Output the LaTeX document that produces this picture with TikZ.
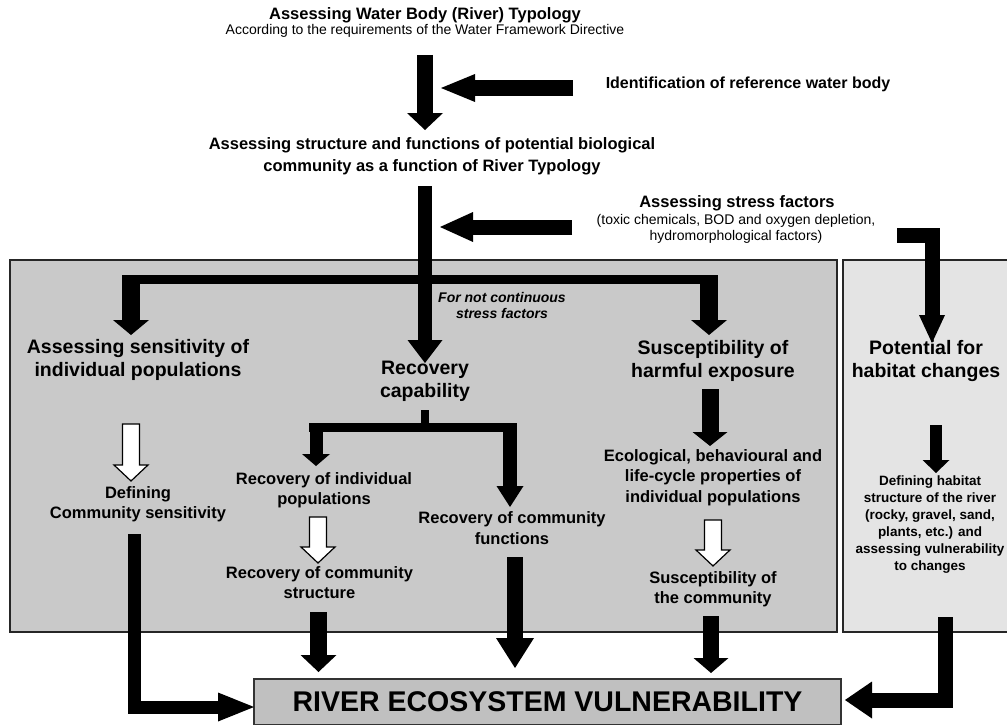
\documentclass[tikz,border=0pt]{standalone}
\usepackage{fontspec}
\setmainfont{Liberation Sans}
\usetikzlibrary{arrows.meta,calc}
\definecolor{panelGray}{HTML}{C9C9C9}
\definecolor{habitatGray}{HTML}{E4E4E4}
\definecolor{resultGray}{HTML}{C0C0C0}

% outlined (white) block arrow, drawn straight down from #1 to the tip #2
\newcommand{\hollowArrow}[2]{%
  \draw[line width=1.2pt, fill=white, line join=miter]
    let \p1=#1, \p2=#2 in
    (\x1-8.5pt,\y1) -- (\x1+8.5pt,\y1) -- (\x1+8.5pt,\y2+16pt) -- (\x1+17pt,\y2+16pt)
    -- (\x1,\y2) -- (\x1-17pt,\y2+16pt) -- (\x1-8.5pt,\y2+16pt) -- cycle;}

\begin{document}
\begin{tikzpicture}[
  x=1pt, y=-1pt,
  headText/.style={align=center, inner sep=0pt, font=\bfseries\fontsize{16.5}{22}\selectfont},
  noteText/.style={align=center, inner sep=0pt, font=\fontsize{14}{16}\selectfont},
  bigText/.style={align=center, inner sep=0pt, font=\bfseries\fontsize{19.5}{23}\selectfont},
  midText/.style={align=center, inner sep=0pt, font=\bfseries\fontsize{16.5}{20.5}\selectfont},
  smallText/.style={align=center, inner sep=0pt, font=\bfseries\fontsize{13.5}{17}\selectfont},
  panel/.style={draw=black!85, line width=1.6pt},
  vulnBox/.style={draw=black!80, line width=1.3pt, fill=resultGray, minimum width=587pt, minimum height=46pt, inner sep=0pt, outer sep=0pt, font=\bfseries\fontsize{28.5}{30}\selectfont},
  blockArrow/.style args={#1/#2/#3}{draw=black, line width=#1, -{Triangle[width=#2, length=#3, line width=0pt]}},
  barLine/.style={draw=black, line width=#1}
]
\useasboundingbox (0,0) rectangle (1007,725);

% grey panels
\draw[panel, fill=panelGray] (10,260) rectangle (837,632);
\draw[panel, fill=habitatGray] (843,260) rectangle (1012,632);

% texts
\node[headText] (typology) at (425,15) {Assessing Water Body (River) Typology};
\node[noteText] (typologyNote) at (425,31) {According to the requirements of the Water Framework Directive};
\node[headText, font=\bfseries\fontsize{16}{20}\selectfont] (refbody) at (748,84) {Identification of reference water body};
\node[headText] (potcomm) at (432,156) {Assessing structure and functions of potential biological\\community as a function of River Typology};
\node[headText] (stress) at (737,203) {Assessing stress factors};
\node[noteText] (stressNote) at (736,229) {(toxic chemicals, BOD and oxygen depletion,\\hydromorphological factors)};
\node[align=center, inner sep=0pt, font=\bfseries\itshape\fontsize{14}{16}\selectfont] (forstress) at (502,305) {For not continuous\\stress factors};

\node[bigText] (sensitivity) at (138,360) {Assessing sensitivity of\\individual populations};
\node[bigText] (recovery) at (425,381) {Recovery\\capability};
\node[bigText] (susceptibility) at (713,361) {Susceptibility of\\harmful exposure};
\node[bigText] (habitat) at (926,361) {Potential for\\habitat changes};

\node[midText] (defcomm) at (138,504) {Defining\\Community sensitivity};
\node[midText] (recindiv) at (324,490) {Recovery of individual\\populations};
\node[midText] (recstruct) at (319.5,582.5) {Recovery of community\\structure};
\node[midText] (recfunc) at (512,528) {Recovery of community\\functions};
\node[midText] (ecoprops) at (713,477.5) {Ecological, behavioural and\\life-cycle properties of\\individual populations};
\node[midText] (suscomm) at (713,589) {Susceptibility of\\the community};
\node[smallText] (habdef) at (930,524.5) {Defining habitat\\structure of the river\\(rocky, gravel, sand,\\plants, etc.) and\\assessing vulnerability\\to changes};

\node[vulnBox] (vulnerability) at (547.5,702) {RIVER ECOSYSTEM VULNERABILITY};

% main trunk
\draw[blockArrow=16pt/36pt/17pt] ([yshift=-24pt]typologyNote.center) -- ([yshift=26pt]potcomm.center -| typologyNote.center);
\draw[blockArrow=16pt/28pt/34pt] ([xshift=-175pt,yshift=-4pt]refbody.center) -- ([xshift=16pt,yshift=-4pt]refbody.center -| typologyNote.center);
\draw[blockArrow=14pt/35pt/23pt] ([yshift=-30pt]potcomm.center -| recovery.center) -- ([yshift=18pt]recovery.center);
\draw[blockArrow=15pt/30pt/33pt] ([xshift=-164pt,yshift=2pt]stressNote.center) -- ([xshift=15pt,yshift=2pt]stressNote.center -| recovery.center);
\draw[blockArrow=15pt/26pt/28pt] ([xshift=161pt,yshift=-6.5pt]stressNote.center) -| ([xshift=6pt,yshift=18pt]habitat.center);

% three branches
\coordinate (branch) at ([yshift=101.5pt]recovery.center);
\draw[barLine=9pt] ([xshift=-16pt]branch -| sensitivity.center) -- ([xshift=5pt]branch -| susceptibility.center);
\draw[blockArrow=18pt/36pt/15pt] ([xshift=-7pt,yshift=4.5pt]branch -| sensitivity.center) -- ([xshift=-7pt,yshift=25pt]sensitivity.center);
\draw[blockArrow=18pt/36pt/15pt] ([xshift=-4pt,yshift=4.5pt]branch -| susceptibility.center) -- ([xshift=-4pt,yshift=26pt]susceptibility.center);

% recovery split
\coordinate (recBranch) at ([yshift=-46.5pt]recovery.center);
\draw[barLine=8pt] ([yshift=-29pt]recovery.center) -- (recBranch);
\draw[barLine=9pt] ([xshift=-15pt]recBranch -| recindiv.center) -- ([xshift=5pt]recBranch -| recfunc.center);
\draw[blockArrow=13pt/28pt/12pt] ([xshift=-8pt,yshift=4.5pt]recBranch -| recindiv.center) -- ([xshift=-8pt,yshift=24pt]recindiv.center);
\draw[blockArrow=14pt/27pt/21pt] ([xshift=-2pt,yshift=4.5pt]recBranch -| recfunc.center) -- ([xshift=-2pt,yshift=21pt]recfunc.center);

% inside the columns
\draw[blockArrow=17pt/35pt/14pt] ([xshift=-3pt,yshift=-28pt]susceptibility.center) -- ([xshift=-3pt,yshift=31.5pt]ecoprops.center);
\draw[blockArrow=12pt/27pt/13pt] ([xshift=10pt,yshift=-64pt]habitat.center) -- ([xshift=6pt,yshift=51.5pt]habdef.center);
\hollowArrow{([xshift=-7pt,yshift=-64pt]sensitivity.center)}{([xshift=-7pt,yshift=23pt]defcomm.center)}
\hollowArrow{([xshift=-6pt,yshift=-27pt]recindiv.center)}{([xshift=-1.5pt,yshift=19.5pt]recstruct.center)}
\hollowArrow{([yshift=-42.5pt]ecoprops.center)}{([yshift=23pt]suscomm.center)}

% into the result
\draw[blockArrow=13pt/29pt/36pt] ([xshift=-4pt,yshift=-30pt]defcomm.center) |- ([yshift=-5pt]vulnerability.west);
\draw[blockArrow=17pt/36pt/17pt] ([xshift=-1pt,yshift=-29.5pt]recstruct.center) -- ([xshift=-1pt,yshift=7pt]vulnerability.north -| recstruct.center);
\draw[blockArrow=16pt/38pt/30pt] ([xshift=3pt,yshift=-29pt]recfunc.center) -- ([xshift=3pt,yshift=11pt]vulnerability.north -| recfunc.center);
\draw[blockArrow=16pt/35pt/15pt] ([xshift=-2pt,yshift=-27pt]suscomm.center) -- ([xshift=-2pt,yshift=6pt]vulnerability.north -| suscomm.center);
\draw[blockArrow=15pt/37pt/27pt] ([xshift=15pt,yshift=-92.5pt]habdef.center) |- ([xshift=4pt,yshift=2pt]vulnerability.east);
\end{tikzpicture}
\end{document}
